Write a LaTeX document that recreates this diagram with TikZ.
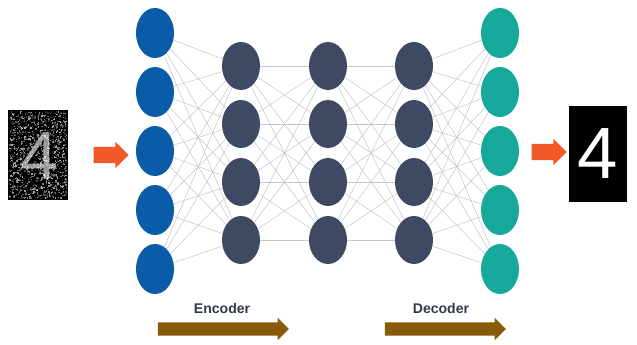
\documentclass[tikz,border=0pt]{standalone}
\usepackage{fontspec}
\setmainfont{Liberation Sans}
\usetikzlibrary{shapes.geometric,shapes.arrows,backgrounds}
\definecolor{inblue}{HTML}{0B5CA8}
\definecolor{hidnavy}{HTML}{3E4A64}
\definecolor{outteal}{HTML}{17A89C}
\definecolor{feedorange}{HTML}{F2592A}
\definecolor{flowbrown}{HTML}{8A5A0B}
\definecolor{labelgray}{HTML}{2F3A4A}
\begin{document}
\begin{tikzpicture}[x=0.03cm, y=-0.03cm,
        inp/.style = {ellipse, fill=inblue, inner sep=0pt, minimum width=1.14cm, minimum height=1.5cm},
        hid/.style = {ellipse, fill=hidnavy, inner sep=0pt, minimum width=1.14cm, minimum height=1.44cm},
        outp/.style = {ellipse, fill=outteal, inner sep=0pt, minimum width=1.14cm, minimum height=1.5cm},
        link/.style = {gray!45, line width=0.45pt},
        feed/.style = {single arrow, fill=feedorange, inner xsep=0pt, inner ysep=0.24cm, minimum height=1.05cm, single arrow head extend=0.15cm, single arrow head indent=0pt},
        flow/.style = {single arrow, fill=flowbrown, inner xsep=0pt, inner ysep=0.195cm, single arrow head extend=0.135cm, single arrow head indent=0pt},
        tag/.style = {font=\fontsize{12}{14}\selectfont\bfseries, text=labelgray}]
    \useasboundingbox (0,0) rectangle (637,345);
    % layers
    \node[inp] (i1) at (155,33) {};
    \node[inp] (i2) at (155,92) {};
    \node[inp] (i3) at (155,151) {};
    \node[inp] (i4) at (155,210) {};
    \node[inp] (i5) at (155,269) {};
    \node[hid] (a1) at (241,66) {};
    \node[hid] (a2) at (241,124) {};
    \node[hid] (a3) at (241,182) {};
    \node[hid] (a4) at (241,240) {};
    \node[hid] (b1) at (328,66) {};
    \node[hid] (b2) at (328,124) {};
    \node[hid] (b3) at (328,182) {};
    \node[hid] (b4) at (328,240) {};
    \node[hid] (c1) at (414,66) {};
    \node[hid] (c2) at (414,124) {};
    \node[hid] (c3) at (414,182) {};
    \node[hid] (c4) at (414,240) {};
    \node[outp] (o1) at (500,33) {};
    \node[outp] (o2) at (500,92) {};
    \node[outp] (o3) at (500,151) {};
    \node[outp] (o4) at (500,210) {};
    \node[outp] (o5) at (500,269) {};
    % connections
    \begin{scope}[on background layer]
        \foreach \i in {1,...,5}
            \foreach \j in {1,...,4} {
                \draw[link] (i\i) -- (a\j);
                \draw[link] (c\j) -- (o\i);
            }
        \foreach \i in {1,...,4}
            \foreach \j in {1,...,4} {
                \draw[link] (a\i) -- (b\j);
                \draw[link] (b\i) -- (c\j);
            }
    \end{scope}
    % noisy input image
    \node[fill=black, inner sep=0pt, minimum width=1.8cm, minimum height=2.7cm] (noisy) at (38,155) {};
    \pgfmathsetseed{41}
    \foreach \k in {1,...,1100} {
        \pgfmathsetmacro\dx{9+rnd*57}
        \pgfmathsetmacro\dy{111+rnd*87}
        \pgfmathsetmacro\g{10+rnd*60}
        \fill[white!\g!black] (\dx,\dy) rectangle +(1.4,1.4);
    }
    \node[text=white, opacity=0.6, font=\fontsize{58}{58}\selectfont] (noisydigit) at (39,156) {4};
    % clean output image
    \node[fill=black, inner sep=0pt, minimum width=1.74cm, minimum height=2.85cm,
          text=white, font=\fontsize{62}{62}\selectfont] (clean) at (598,154) {4};
    % feed arrows
    \node[feed] (infeed) at (107,155) {};
    \node[feed] (outfeed) at (545,152) {};
    % encoder / decoder
    \node[tag] (enc) at (222,308) {Encoder};
    \node[tag] (dec) at (441,308) {Decoder};
    \node[flow, minimum height=3.93cm] (encflow) at (220,329) {};
    \node[flow, minimum height=3.63cm] (decflow) at (442,329) {};
\end{tikzpicture}
\end{document}
